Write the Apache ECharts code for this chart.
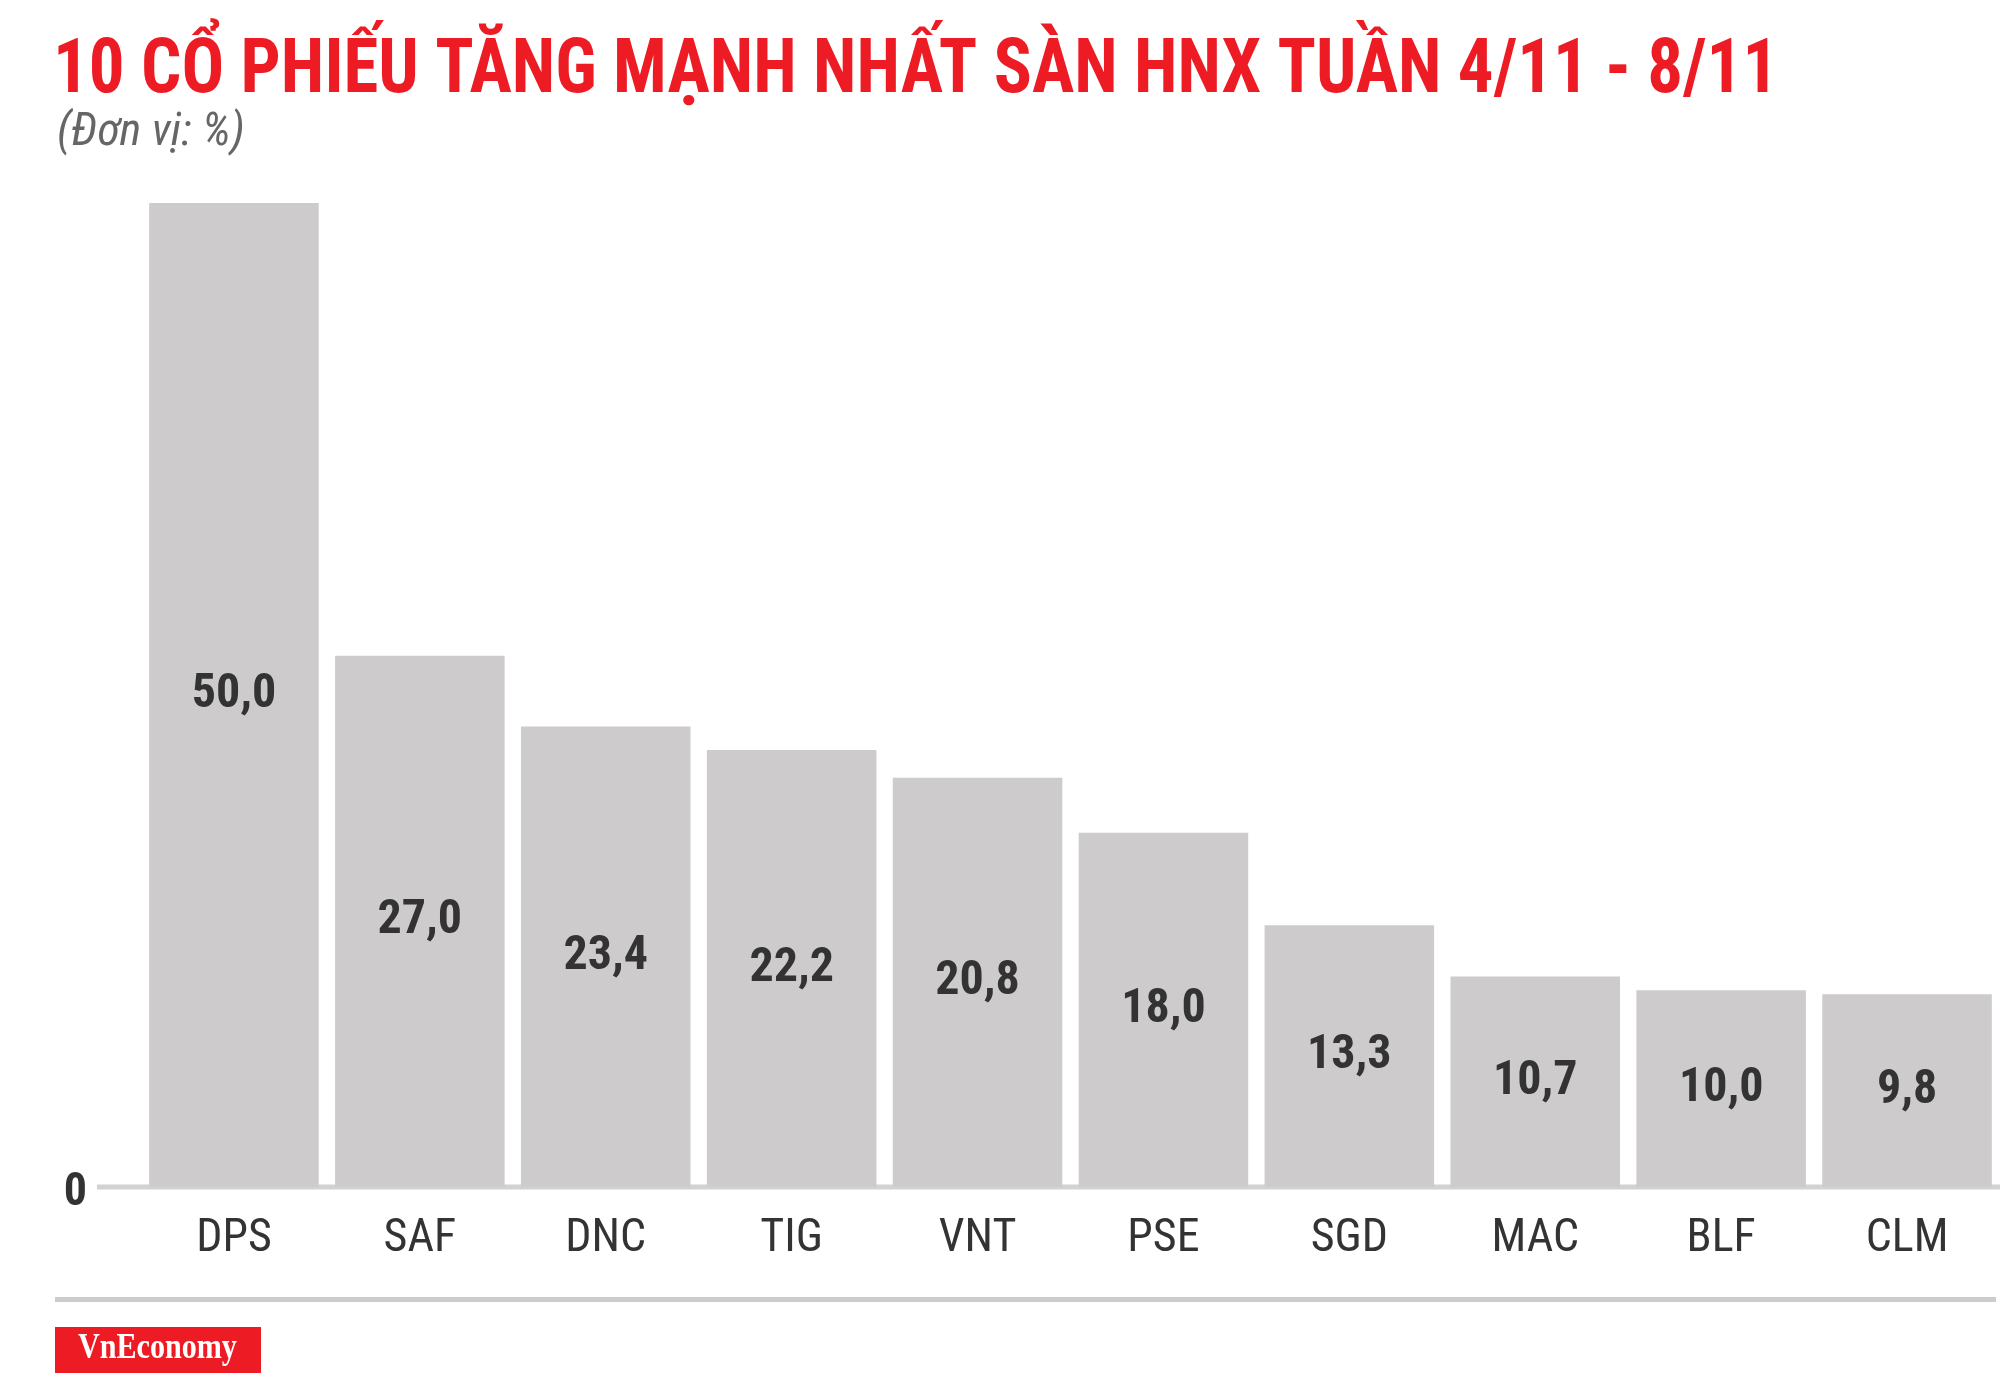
<!DOCTYPE html>
<html><head><meta charset="utf-8">
<script src="https://cdn.jsdelivr.net/npm/echarts@6/dist/echarts.min.js"></script>
<style>html,body{margin:0;padding:0;background:#fff}#c{width:2000px;height:1373px}</style>
</head><body><div id="c"></div>
<script>
const categories = ['DPS','SAF','DNC','TIG','VNT','PSE','SGD','MAC','BLF','CLM'];
const values = [50.0, 27.0, 23.4, 22.2, 20.8, 18.0, 13.3, 10.7, 10.0, 9.8];
const yTicks = [0];
const titleText = '10 CỔ PHIẾU TĂNG MẠNH NHẤT SÀN HNX TUẦN 4/11 - 8/11';
const subText = '(Đơn vị: %)';
const logoText = 'VnEconomy';

const COND = '"Roboto Condensed", Roboto, sans-serif';
const chart = echarts.init(document.getElementById('c'));
chart.setOption({
  animation: false,
  backgroundColor: '#fff',
  title: [
    {text: subText, left: 52, top: 105, textStyle: {color: '#666', fontFamily: COND, fontStyle: 'italic', fontWeight: 'normal', fontSize: 46}}
  ],
  grid: {left: 141, right: -5, top: 203, bottom: 186, containLabel: false},
  xAxis: {
    type: 'category', data: categories,
    axisLine: {show: false}, axisTick: {show: false},
    axisLabel: {color: '#333', fontFamily: COND, fontSize: 46, margin: 29}
  },
  yAxis: {
    type: 'value', min: 0, max: 50, interval: 50,
    splitLine: {show: false}, axisLine: {show: false}, axisTick: {show: false},
    axisLabel: {color: '#333', fontFamily: COND, fontWeight: 'bold', fontSize: 46, margin: 54,
      formatter: v => yTicks.includes(v) ? '{z|' + v + '}' : '',
      rich: {z: {color: '#333', fontFamily: COND, fontWeight: 'bold', fontSize: 46, padding: [12, 0, 0, 0]}}}
  },
  series: [{
    type: 'bar', data: values, barCategoryGap: '8.8%',
    itemStyle: {color: '#cdcbcc'},
    label: {show: true, position: 'inside', color: '#333', fontFamily: COND, fontWeight: 'bold', fontSize: 48,
      formatter: p => p.value.toFixed(1).replace('.', ',')}
  }]
});
const y0 = chart.convertToPixel({yAxisIndex: 0}, 0);
chart.setOption({
  graphic: [
    {type: 'text', x: 53, y: 35, scaleX: 0.933, style: {text: titleText, fill: '#ed1c24', verticalAlign: 'top', font: 'bold 76px ' + COND}},
    {type: 'line', shape: {x1: 97, y1: y0, x2: 2000, y2: y0}, style: {stroke: '#d2d2d2', lineWidth: 5}, z: 1},
    {type: 'line', shape: {x1: 55, y1: 1299.5, x2: 1996, y2: 1299.5}, style: {stroke: '#cccccc', lineWidth: 5}},
    {type: 'rect', shape: {x: 55, y: 1327, width: 206, height: 50}, style: {fill: '#ed1c24'}},
    {type: 'text', x: 78, y: 1331, scaleX: 0.86, style: {text: logoText, fill: '#fff', verticalAlign: 'top', font: 'bold 35px "Liberation Serif", "DejaVu Serif", serif'}}
  ]
});
</script></body></html>
